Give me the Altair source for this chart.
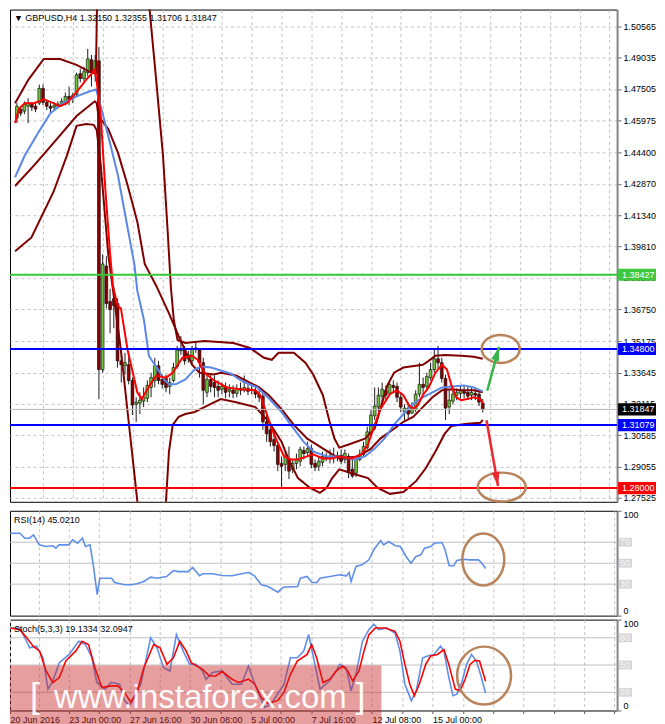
import altair as alt
import pandas as pd

# ---------------- candles (H4 bars, index 0..125) ----------------
opens = [1.4608,1.4652,1.4642,1.4666,1.4676,1.4666,1.4681,1.4753,1.4685,1.4666,
         1.4661,1.4666,1.4676,1.4681,1.4714,1.4705,1.4724,1.4825,1.4801,1.4830,
         1.4893,1.4830,1.4888,1.3379,1.3885,1.3712,1.3726,1.3702,1.3422,1.3398,
         1.3403,1.3326,1.3210,1.3215,1.3225,1.3239,1.3292,1.3326,1.3398,1.3331,
         1.3336,1.3297,1.3326,1.3394,1.3471,1.3475,1.3432,1.3422,1.3480,1.3475,
         1.3413,1.3268,1.3331,1.3316,1.3297,1.3283,1.3297,1.3273,1.3278,1.3263,
         1.3287,1.3278,1.3287,1.3278,1.3278,1.3259,1.3249,1.3124,1.3085,1.3037,
         1.3008,1.2921,1.2916,1.2945,1.2892,1.2921,1.2931,1.2984,1.2974,1.2993,
         1.2921,1.2907,1.2926,1.2955,1.2950,1.2950,1.2955,1.2960,1.2940,1.2955,
         1.2892,1.2873,1.2940,1.2965,1.2998,1.3066,1.3153,1.3196,1.3249,1.3278,
         1.3263,1.3302,1.3297,1.3244,1.3172,1.3191,1.3167,1.3186,1.3259,1.3307,
         1.3297,1.3340,1.3379,1.3432,1.3413,1.3336,1.3196,1.3225,1.3254,1.3263,
         1.3273,1.3268,1.3254,1.3263,1.3259,1.32150]
highs = [1.4681,1.4666,1.4690,1.4705,1.4685,1.4681,1.4772,1.4772,1.4695,1.4681,
         1.4685,1.4690,1.4705,1.4733,1.4762,1.4733,1.4830,1.4849,1.4859,1.4946,
         1.4917,1.4917,1.4955,1.3943,1.3933,1.3774,1.3784,1.3726,1.3475,1.3461,
         1.3461,1.3340,1.3244,1.3268,1.3292,1.3326,1.3364,1.3437,1.3422,1.3355,
         1.3355,1.3340,1.3413,1.3495,1.3543,1.3495,1.3471,1.3495,1.3509,1.3485,
         1.3437,1.3364,1.3355,1.3350,1.3326,1.3316,1.3316,1.3307,1.3302,1.3307,
         1.3316,1.3350,1.3312,1.3307,1.3302,1.3283,1.3268,1.3162,1.3124,1.3075,
         1.3027,1.2955,1.2979,1.3003,1.2940,1.2969,1.3003,1.3003,1.3027,1.3013,
         1.2940,1.2955,1.2979,1.2974,1.2989,1.2998,1.2979,1.2989,1.2989,1.2969,
         1.2955,1.2955,1.2989,1.3027,1.3100,1.3182,1.3292,1.3292,1.3316,1.3302,
         1.3326,1.3326,1.3316,1.3268,1.3210,1.3220,1.3220,1.3278,1.3413,1.3340,
         1.3364,1.3413,1.3485,1.3495,1.3437,1.3355,1.3278,1.3292,1.3287,1.3302,
         1.3302,1.3297,1.3292,1.3287,1.3278,1.32355]
lows = [1.4584,1.4618,1.4627,1.4584,1.4642,1.4637,1.4671,1.4671,1.4647,1.4637,
        1.4647,1.4656,1.4666,1.4671,1.4671,1.4681,1.4714,1.4782,1.4787,1.4811,
        1.4762,1.4787,1.3235,1.3364,1.3678,1.3557,1.3581,1.3389,1.3316,1.3355,
        1.3307,1.3157,1.3124,1.3162,1.3196,1.3220,1.3244,1.3292,1.3307,1.3287,
        1.3268,1.3259,1.3316,1.3384,1.3451,1.3403,1.3413,1.3403,1.3461,1.3340,
        1.3210,1.3244,1.3268,1.3244,1.3244,1.3259,1.3239,1.3244,1.3239,1.3244,
        1.3254,1.3268,1.3254,1.3259,1.3239,1.3220,1.3085,1.3027,1.3003,1.2979,
        1.2883,1.2801,1.2883,1.2844,1.2873,1.2892,1.2907,1.2940,1.2955,1.2897,
        1.2883,1.2883,1.2907,1.2931,1.2921,1.2921,1.2931,1.2916,1.2921,1.2849,
        1.2849,1.2854,1.2931,1.2950,1.2989,1.3056,1.3133,1.3172,1.3220,1.3230,
        1.3249,1.3268,1.3220,1.3172,1.3133,1.3143,1.3162,1.3172,1.3244,1.3259,
        1.3278,1.3326,1.3364,1.3384,1.3316,1.3133,1.3162,1.3210,1.3230,1.3239,
        1.3239,1.3230,1.3230,1.3230,1.3201,1.31706]
closes = [1.4666,1.4632,1.4676,1.4681,1.4661,1.4652,1.4753,1.4685,1.4666,1.4656,
          1.4671,1.4676,1.4690,1.4714,1.4700,1.4719,1.4820,1.4801,1.4835,1.4897,
          1.4830,1.4888,1.3379,1.3895,1.3702,1.3673,1.3692,1.3422,1.3403,1.3413,
          1.3326,1.3206,1.3220,1.3230,1.3244,1.3302,1.3340,1.3398,1.3326,1.3307,
          1.3292,1.3316,1.3389,1.3475,1.3475,1.3422,1.3451,1.3480,1.3485,1.3413,
          1.3278,1.3331,1.3297,1.3292,1.3278,1.3297,1.3268,1.3283,1.3263,1.3287,
          1.3278,1.3292,1.3273,1.3283,1.3259,1.3244,1.3124,1.3066,1.3027,1.3008,
          1.2916,1.2907,1.2950,1.2883,1.2921,1.2940,1.2989,1.2969,1.2993,1.2916,
          1.2902,1.2931,1.2955,1.2950,1.2955,1.2955,1.2960,1.2931,1.2969,1.2883,
          1.2859,1.2940,1.2965,1.3003,1.3075,1.3157,1.3201,1.3254,1.3283,1.3254,
          1.3307,1.3292,1.3244,1.3196,1.3191,1.3162,1.3196,1.3259,1.3307,1.3292,
          1.3345,1.3379,1.3432,1.3413,1.3336,1.3191,1.3230,1.3259,1.3268,1.3278,
          1.3263,1.3249,1.3268,1.3254,1.3220,1.31847]

# ---------------- indicator lines (bar index, value) ----------------
ub_i = [-0.5,3.1,7.2,11.6,16.0,19.4,21.2,21.6,22.5,28.0,33.0,35.6,37.4,39.2,40.5,41.3,42.1,43.1,45.2,50.3,
        58.1,62.5,66.3,68.4,70.2,74.3,77.4,79.5,82.1,83.9,85.2,86.5,89.0,93.4,96.0,97.5,99.4,101.2,103.7,108.9,
        110.5,112.3,114.8,119.2,122.6,125.0]
ub_v = [1.4680,1.4796,1.4897,1.4897,1.4868,1.4835,1.4825,1.5300,1.6000,1.6300,1.5800,1.5138,1.4787,1.4425,1.4039,1.3784,1.3620,1.3524,1.3509,1.3519,
        1.3509,1.3485,1.3437,1.3427,1.3461,1.3461,1.3413,1.3355,1.3254,1.3124,1.3042,1.2998,1.3013,1.3042,1.3090,1.3186,1.3302,1.3364,1.3389,1.3403,
        1.3422,1.3447,1.3451,1.3447,1.3442,1.3432]
mb_i = [-0.5,4.6,10.3,16.0,20.9,21.4,21.9,24.5,27.1,29.7,32.3,34.3,37.4,40.8,43.4,45.2,47.0,49.0,52.9,54.7,
        58.8,62.5,65.0,67.6,71.0,74.3,77.9,81.3,84.6,86.5,91.6,95.0,97.5,101.2,103.7,106.3,108.9,111.5,114.1,116.6,
        119.2,122.6,125.0]
mb_v = [1.4276,1.4377,1.4497,1.4618,1.4690,1.4681,1.4618,1.4555,1.4439,1.4280,1.4102,1.3895,1.3788,1.3654,1.3543,1.3471,1.3403,1.3364,1.3355,1.3364,
        1.3350,1.3316,1.3292,1.3254,1.3186,1.3109,1.3042,1.3003,1.2965,1.2945,1.2955,1.2993,1.3042,1.3090,1.3124,1.3148,1.3196,1.3244,1.3278,1.3283,
        1.3278,1.3278,1.3268]
lb_i = [-0.5,3.9,9.8,13.4,16.0,18.6,20.6,21.4,22.5,24.5,27.9,29.7,32.3,36.0,40.0,40.8,41.8,43.4,45.2,47.7,
        50.3,54.7,58.8,64.0,67.6,71.0,72.8,75.4,78.7,81.3,83.1,84.6,86.5,89.8,94.2,96.8,100.1,103.7,107.1,109.7,
        112.3,114.8,116.6,120.8,124.4,125.0]
lb_v = [1.3957,1.4025,1.4247,1.4425,1.4570,1.4579,1.4575,1.4550,1.4377,1.3943,1.3475,1.3172,1.2738,1.2200,1.2738,1.2979,1.3109,1.3148,1.3162,1.3172,
        1.3196,1.3235,1.3220,1.3196,1.3124,1.3027,1.2945,1.2849,1.2801,1.2777,1.2801,1.2849,1.2892,1.2873,1.2849,1.2801,1.2772,1.2781,1.2834,1.2897,
        1.2979,1.3066,1.3104,1.3114,1.3119,1.3133]
bm_i = [-0.5,2.1,5.7,9.0,12.4,16.0,19.4,21.2,21.4,22.7,24.5,27.1,29.2,31.5,32.3,34.1,35.4,36.6,37.9,39.5,
        40.8,42.6,45.2,47.7,49.5,52.1,57.3,60.6,64.5,67.6,71.0,73.5,76.9,79.5,83.1,86.5,90.8,93.4,96.0,98.6,
        101.2,103.7,106.3,108.9,111.5,114.1,116.6,119.9,122.6,125.0]
bm_v = [1.4319,1.4425,1.4536,1.4632,1.4681,1.4714,1.4738,1.4748,1.4738,1.4652,1.4521,1.4329,1.4121,1.3895,1.3765,1.3620,1.3447,1.3413,1.3379,1.3331,
        1.3307,1.3307,1.3331,1.3379,1.3394,1.3389,1.3360,1.3321,1.3292,1.3239,1.3172,1.3109,1.3027,1.2979,1.2955,1.2955,1.2940,1.2955,1.2993,1.3042,
        1.3109,1.3162,1.3210,1.3244,1.3268,1.3292,1.3297,1.3302,1.3292,1.3273]
rm_i = [-0.5,0.5,2.1,4.6,7.2,9.8,11.6,13.4,15.0,16.8,18.6,20.1,20.9,21.4,22.5,23.7,25.0,25.8,27.1,27.9,
        29.7,32.3,33.5,35.6,37.4,40.0,41.8,44.4,47.0,48.5,50.3,52.9,56.3,59.9,64.0,65.3,66.6,68.4,70.2,71.7,
        73.5,75.4,77.9,79.5,82.1,84.6,86.5,89.8,92.4,94.2,96.0,97.5,100.1,101.9,103.7,105.0,106.3,107.6,108.9,110.5,
        112.3,114.1,115.4,116.6,117.9,119.2,120.8,122.6,124.4,125.0]
rm_v = [1.4584,1.4652,1.4681,1.4681,1.4700,1.4681,1.4666,1.4681,1.4714,1.4753,1.4796,1.4825,1.4844,1.4787,1.4618,1.4266,1.3943,1.3784,1.3688,1.3678,
        1.3475,1.3268,1.3235,1.3302,1.3350,1.3340,1.3364,1.3437,1.3447,1.3427,1.3364,1.3326,1.3292,1.3283,1.3278,1.3254,1.3186,1.3090,1.3013,1.2955,
        1.2940,1.2940,1.2955,1.2965,1.2945,1.2945,1.2955,1.2945,1.2965,1.3013,1.3109,1.3186,1.3259,1.3278,1.3254,1.3210,1.3186,1.3206,1.3254,1.3292,
        1.3364,1.3403,1.3379,1.3302,1.3244,1.3230,1.3235,1.3244,1.3235,1.3215]

rsi_i = [-0.5,2.1,3.4,4.6,5.7,7.2,9.0,10.8,11.6,12.4,15.0,16.0,17.3,18.6,19.4,20.6,21.4,22.5,22.7,23.2,
         26.3,27.1,29.7,31.5,33.0,34.8,36.6,38.2,40.8,42.6,43.9,46.5,47.7,49.5,50.3,52.9,55.5,58.1,60.6,62.5,
         64.0,65.8,67.6,70.2,71.0,71.7,75.4,76.1,77.9,79.2,80.5,81.3,83.9,86.5,88.3,89.0,89.5,90.8,92.4,94.2,
         95.5,97.3,98.1,99.4,101.2,102.5,104.0,105.3,106.6,107.9,108.9,110.5,111.5,113.5,114.3,115.4,116.6,117.4,119.2,120.8,
         123.1,123.9,125.0]
rsi_v = [78.6,78.6,73.8,73.8,77.0,67.5,65.9,66.6,64.3,67.5,67.5,72.3,69.0,73.8,65.9,67.5,50.0,19.9,24.7,35.7,
         35.7,31.6,29.4,29.4,30.4,32.6,36.7,35.7,37.3,43.0,42.0,42.0,45.9,38.0,39.9,39.9,38.3,38.0,39.9,41.1,
         38.0,29.4,27.8,22.4,25.2,27.1,27.8,35.7,37.3,31.6,31.6,35.7,37.3,38.9,38.0,41.1,32.6,46.9,48.4,53.2,
         62.8,71.6,67.5,70.7,66.6,65.9,56.4,50.0,56.4,58.0,64.3,65.9,69.0,69.7,62.8,47.5,47.5,52.6,53.8,53.2,
         53.2,50.7,45.0]

sk_i = [-0.4,2.1,4.7,6.5,8.2,9.5,10.8,12.5,15.1,17.6,19.4,21.1,22.4,24.5,26.2,28.4,29.7,31.0,32.3,34.0,
        36.6,38.3,40.0,41.7,43.4,45.2,46.9,48.6,50.3,51.2,52.9,55.5,58.1,60.6,62.4,64.1,66.7,68.4,71.8,73.5,
        75.3,77.0,78.3,79.6,81.3,83.9,85.6,86.5,88.2,89.5,90.8,92.5,94.2,95.5,96.8,98.9,101.1,102.4,103.7,105.4,
        106.7,108.4,109.7,111.4,113.1,114.0,115.3,116.4,117.4,118.7,120.0,121.3,122.6,123.9,125.0]
sk_v = [90.8,90.8,68.9,70.8,58.0,23.5,32.6,52.6,61.7,76.2,72.6,58.0,30.8,23.5,30.8,28.9,10.8,5.3,14.4,28.9,
        79.9,68.9,47.1,43.5,83.5,65.3,50.7,50.7,43.5,34.4,41.7,43.5,28.9,28.9,48.9,28.9,3.5,7.1,28.9,58.0,
        58.0,65.3,83.5,58.0,23.5,33.0,43.5,50.7,47.1,21.7,39.8,76.2,88.9,95.0,88.9,90.8,85.3,65.3,28.9,10.8,
        21.7,58.0,59.9,61.7,70.8,65.3,36.2,16.2,18.0,30.8,50.7,61.7,54.4,36.2,19.1]
sd_i = [-0.4,2.1,3.9,5.6,7.3,9.0,10.8,12.5,14.2,16.8,18.5,20.2,21.9,23.7,26.2,27.9,29.7,31.4,33.1,34.8,
        37.4,39.1,40.9,42.6,44.3,46.0,47.3,50.3,52.1,53.8,55.5,58.1,59.8,62.4,64.1,65.8,67.5,70.1,71.8,73.5,
        75.3,77.9,79.1,80.4,82.1,83.9,85.6,87.3,88.6,89.9,91.6,92.9,94.2,95.9,98.5,101.1,102.4,103.7,105.0,106.2,
        107.5,109.2,110.5,112.3,114.0,115.3,117.0,118.3,119.6,120.9,122.2,123.4,125.0]
sd_v = [90.8,88.9,79.9,70.8,65.3,43.5,30.8,36.2,54.4,65.3,76.2,72.6,47.1,25.3,27.1,27.1,19.9,8.9,21.7,47.1,
        72.6,68.9,50.7,58.0,76.2,65.3,52.6,45.3,38.0,38.0,42.8,34.4,30.8,34.4,28.9,14.4,7.9,10.8,19.9,39.8,
        54.4,61.7,72.6,58.0,30.8,34.4,43.5,48.9,43.5,32.6,43.5,65.3,83.5,90.8,90.8,87.1,76.2,50.7,28.9,16.2,
        28.9,50.7,59.9,61.7,67.1,50.7,23.5,21.7,34.4,50.7,55.1,54.4,32.1]

# ---------------- levels, ticks, labels ----------------
y_ticks = [1.50565,1.49035,1.47505,1.45975,1.44400,1.42870,1.41340,1.39810,1.38280,
           1.36750,1.35175,1.33645,1.32115,1.30585,1.29055,1.27525]
levels = [1.38427, 1.34800, 1.31079, 1.28000]
level_colors = ["#35c935", "#0000ff", "#0000ff", "#ff0000"]
price_now = 1.31847
tag_values = [1.38427, 1.34800, 1.31847, 1.31079, 1.28000]
tag_fills = ["#3fc83f", "#0000ff", "#000000", "#0000ff", "#ff0000"]
x_label_idx = [-0.5, 15, 31, 47, 63, 79, 95, 111]
x_label_txt = ["20 Jun 2016", "23 Jun 00:00", "27 Jun 16:00", "30 Jun 08:00",
               "5 Jul 00:00", "7 Jul 16:00", "12 Jul 08:00", "15 Jul 00:00"]
rsi_levels = [30, 50, 70]
sto_levels = [20, 50, 80]

header = "\u25bc GBPUSD,H4  1.32150 1.32355 1.31706 1.31847"
rsi_title = "RSI(14) 45.0210"
sto_title = "Stoch(5,3,3) 19.1334 32.0947"

# annotations (bar index, value)
main_ell_i = [129.8, 130.1]; main_ell_v = [1.3480, 1.2805]
main_ell_rx = [19, 24]; main_ell_ry = [14, 14.5]
rsi_ell = (124.4, 53.5, 21, 26)
sto_ell = (124.6, 38.4, 27, 29)
arrows = [  # from_i, from_v, to_i, to_v, colour, angle
    (126.2, 1.3276, 129.4, 1.3490, "#36b44a", 17),
    (126.0, 1.3132, 129.1, 1.2810, "#ec2830", 170),
]

# ---------------- layout ----------------
W = 608
H_MAIN, H_RSI, H_STO = 493, 105, 91
FONT = "Liberation Sans"
GRID = "#c4c4c4"
BULL, BEAR = "#6fc23c", "#8b0000"
BROWN = "#b9845c"

xs = alt.Scale(domain=[-0.52, 159.7], nice=False, zero=False)
ys = alt.Scale(domain=[1.27332, 1.51384], nice=False, zero=False)
s100 = alt.Scale(domain=[0, 100], nice=False, zero=False)

grid_idx = list(range(7, 160, 8))
x_axis_plain = alt.Axis(values=grid_idx, labels=False, ticks=False, domain=False, grid=True,
                        gridDash=[3, 3], gridColor=GRID, title=None)
label_expr = "''"
for idx, txt in reversed(list(zip(x_label_idx, x_label_txt))):
    label_expr = f"datum.value == {idx} ? '{txt}' : ({label_expr})"
x_axis_time = alt.Axis(values=[-0.5] + grid_idx, labelExpr=label_expr, labelAlign="left",
                       labelBaseline="top", labelPadding=2, labelOverlap=False, labelFlush=False,
                       labelFont=FONT, labelFontSize=9, labelColor="#000", ticks=True, tickSize=3,
                       tickColor="#555", domain=False, grid=True, gridDash=[3, 3], gridColor=GRID,
                       title=None)
y_axis_main = alt.Axis(orient="right", values=y_ticks, format=".5f", grid=True, gridDash=[3, 3],
                       gridColor=GRID, tickSize=4, tickColor="#666", domainColor="#888",
                       domainWidth=2, labelFont=FONT, labelFontSize=9, labelColor="#000",
                       labelPadding=2, labelOverlap=False, title=None)
y_axis_100 = alt.Axis(orient="right", values=[0, 100], labelFlush=True, grid=False, tickSize=4,
                      tickColor="#666", domainColor="#888", domainWidth=2, labelFont=FONT,
                      labelFontSize=9, labelColor="#000", labelPadding=2, title=None)


def X(field, axis):
    return alt.X(field, scale=xs, axis=axis)


def YM(field):
    return alt.Y(field, scale=ys, axis=y_axis_main)


def Y100(field):
    return alt.Y(field, scale=s100, axis=y_axis_100)


def ellipse_path(ax, ay):
    k = 0.5523
    f = lambda v: f"{v:.3f}"
    return (f"M {f(-ax)} 0 C {f(-ax)} {f(-k*ay)} {f(-k*ax)} {f(-ay)} 0 {f(-ay)} "
            f"C {f(k*ax)} {f(-ay)} {f(ax)} {f(-k*ay)} {f(ax)} 0 "
            f"C {f(ax)} {f(k*ay)} {f(k*ax)} {f(ay)} 0 {f(ay)} "
            f"C {f(-k*ax)} {f(ay)} {f(-ax)} {f(k*ay)} {f(-ax)} 0 Z")


def ellipse_layer(i, v, rx, ry, yfun, xaxis):
    m = max(rx, ry)
    df = pd.DataFrame({"i": [i], "v": [v]})
    return alt.Chart(df).mark_point(shape=ellipse_path(rx / m, ry / m), size=(2 * m) ** 2,
                                    filled=False, color=BROWN, strokeWidth=2.5, opacity=1).encode(
        x=X("i:Q", xaxis), y=yfun("v:Q"))


def line_layer(ix, vals, color, width, yfun, xaxis):
    df = pd.DataFrame({"i": ix, "v": vals})
    return alt.Chart(df).mark_line(color=color, strokeWidth=width, clip=True).encode(
        x=X("i:Q", xaxis), y=yfun("v:Q"), order="i:Q")


def text_layer(txt, x, y, size=9, color="#000", font=FONT, opacity=1.0):
    df = pd.DataFrame({"t": [txt]})
    return alt.Chart(df).mark_text(align="left", baseline="middle", font=font, fontSize=size,
                                   color=color, opacity=opacity).encode(
        x=alt.value(x), y=alt.value(y), text="t:N")


RECT_TAG = "M -1 -0.32 L 1 -0.32 L 1 0.32 L -1 0.32 Z"
RECT_LVL = "M -1 -0.68 L 1 -0.68 L 1 0.68 L -1 0.68 Z"
ARROW = "M 0 0 L 0.57 2 L -0.57 2 Z"

# ---------------- main panel ----------------
candles = pd.DataFrame({"i": list(range(len(opens))), "o": opens, "h": highs, "l": lows, "c": closes})
wicks = alt.Chart(candles).mark_rule(color="#1e1e1e", strokeWidth=1).encode(
    x=X("i:Q", x_axis_plain), y=YM("l:Q"), y2="h:Q")
bodies = alt.Chart(candles).mark_bar(width=2.8, stroke="#000", strokeWidth=0.6).encode(
    x=X("i:Q", x_axis_plain), y=YM("o:Q"), y2="c:Q",
    fill=alt.condition("datum.c >= datum.o", alt.value(BULL), alt.value(BEAR)))

now_rule = alt.Chart(pd.DataFrame({"v": [price_now]})).mark_rule(color="#b8b8b8", strokeWidth=1).encode(
    y=YM("v:Q"))
lv_rules = alt.Chart(pd.DataFrame({"v": levels, "c": level_colors})).mark_rule(strokeWidth=2).encode(
    y=YM("v:Q"), color=alt.Color("c:N", scale=None))
tags_df = pd.DataFrame({"v": tag_values, "c": tag_fills})
tag_box = alt.Chart(tags_df).mark_point(shape=RECT_TAG, size=38 * 38, filled=True, opacity=1,
                                        strokeWidth=0).encode(
    x=alt.value(W + 20), y=YM("v:Q"), color=alt.Color("c:N", scale=None))
tag_txt = alt.Chart(tags_df).mark_text(align="left", baseline="middle", font=FONT, fontSize=9,
                                       color="white").encode(
    x=alt.value(W + 5), y=YM("v:Q"), text=alt.Text("v:Q", format=".5f"))

arrow_layers = []
for fi, fv, ti, tv, col, ang in arrows:
    df = pd.DataFrame({"x0": [fi], "y0": [fv], "x1": [ti], "y1": [tv]})
    arrow_layers.append(alt.Chart(df).mark_rule(color=col, strokeWidth=2.5).encode(
        x=X("x0:Q", x_axis_plain), x2="x1:Q", y=YM("y0:Q"), y2="y1:Q"))
    arrow_layers.append(alt.Chart(df).mark_point(shape=ARROW, size=196, filled=True, color=col,
                                                 opacity=1, angle=ang, strokeWidth=0).encode(
        x=X("x1:Q", x_axis_plain), y=YM("y1:Q")))

main_layers = [wicks, bodies,
               line_layer(ub_i, ub_v, "#800000", 2, YM, x_axis_plain),
               line_layer(mb_i, mb_v, "#800000", 2, YM, x_axis_plain),
               line_layer(lb_i, lb_v, "#800000", 2, YM, x_axis_plain),
               line_layer(bm_i, bm_v, "#5b87e6", 2, YM, x_axis_plain),
               line_layer(rm_i, rm_v, "#ff0000", 2, YM, x_axis_plain),
               now_rule, lv_rules, tag_box, tag_txt]
main_layers += [ellipse_layer(i, v, rx, ry, YM, x_axis_plain)
                for i, v, rx, ry in zip(main_ell_i, main_ell_v, main_ell_rx, main_ell_ry)]
main_layers += arrow_layers
main_layers.append(text_layer(header, 4, 8))
main = alt.layer(*main_layers).properties(width=W, height=H_MAIN)


# ---------------- RSI / Stoch panels ----------------
def level_layers(lvls):
    df = pd.DataFrame({"v": lvls, "t": [str(x) for x in lvls]})
    rules = alt.Chart(df).mark_rule(color="#c0c0c0", strokeWidth=1).encode(y=Y100("v:Q"))
    box = alt.Chart(df).mark_point(shape=RECT_LVL, size=13 * 13, filled=True, color="#d6d6d6",
                                   opacity=1, strokeWidth=0).encode(x=alt.value(W + 8.5), y=Y100("v:Q"))
    txt = alt.Chart(df).mark_text(align="left", baseline="middle", font=FONT, fontSize=9,
                                  color="#f7f7f7").encode(x=alt.value(W + 3), y=Y100("v:Q"), text="t:N")
    return [rules, box, txt]


rsi_layers = level_layers(rsi_levels) + [
    line_layer(rsi_i, rsi_v, "#5f8fe8", 1.6, Y100, x_axis_plain),
    ellipse_layer(*rsi_ell, Y100, x_axis_plain),
    text_layer(rsi_title, 4, 9),
]
rsi = alt.layer(*rsi_layers).properties(width=W, height=H_RSI)

wm_rect = alt.Chart(pd.DataFrame({"a": [0]})).mark_rect(color="#c82828", opacity=0.45).encode(
    x=alt.value(0), x2=alt.value(372), y=alt.value(46), y2=alt.value(105))
wm_font = "Liberation Sans"


def wm_text(t, x, size):
    df = pd.DataFrame({"t": [t]})
    return alt.Chart(df).mark_text(align="left", baseline="alphabetic", font=wm_font, fontSize=size,
                                   color="#ffffff", opacity=0.95).encode(
        x=alt.value(x), y=alt.value(89), text="t:N")


sto_layers = level_layers(sto_levels) + [
    line_layer(sk_i, sk_v, "#5f8fe8", 1.6, Y100, x_axis_time),
    line_layer(sd_i, sd_v, "#ff0000", 1.6, Y100, x_axis_time),
    ellipse_layer(*sto_ell, Y100, x_axis_time),
    text_layer(sto_title, 4, 9),
    wm_rect,
    wm_text("[", 20, 36), wm_text("www.instaforex.com", 44, 33), wm_text("]", 346, 36),
]
sto = alt.layer(*sto_layers).properties(width=W, height=H_STO)

chart = (alt.vconcat(main, rsi, sto, spacing=2)
         .resolve_scale(x="independent", y="independent")
         .properties(padding=0, background="white")
         .configure_view(stroke="#000000", strokeWidth=1))

chart.save("out.html", embed_options={"renderer": "svg", "actions": False})
